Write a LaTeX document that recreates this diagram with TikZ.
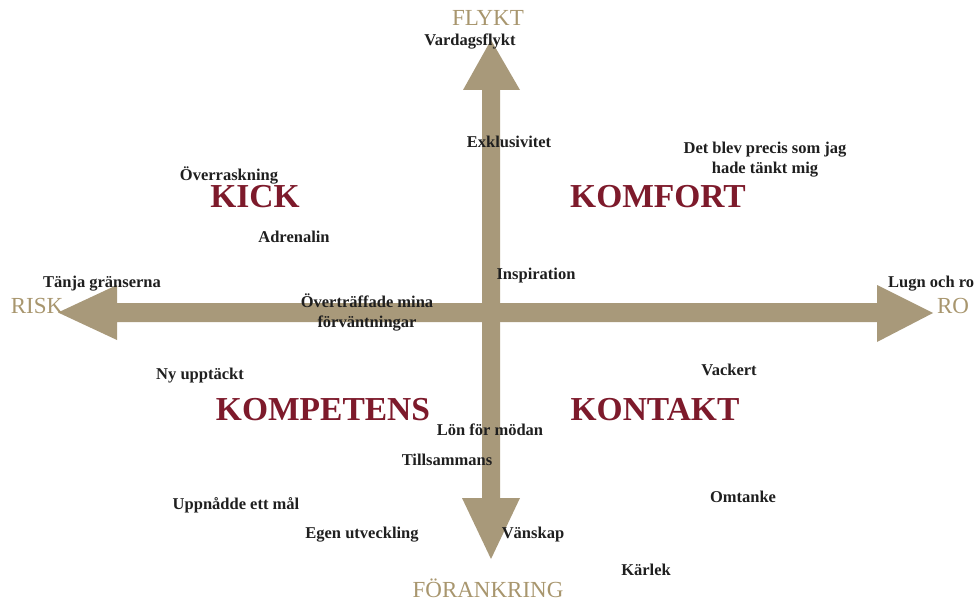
\documentclass[tikz,border=0pt]{standalone}
\usepackage{fontspec}
\setmainfont{Liberation Serif}
\definecolor{arrowtan}{HTML}{A8997A}
\definecolor{axistan}{HTML}{A8966E}
\definecolor{quadred}{HTML}{7D1A2B}
\begin{document}
\begin{tikzpicture}[x=1pt,y=-1pt,
  lbl/.style={font=\fontsize{16.5}{20}\selectfont\bfseries, text=black!88, inner sep=0pt, align=center},
  quad/.style={font=\fontsize{33.5}{38}\selectfont\bfseries, text=quadred, inner sep=0pt},
  axis/.style={font=\fontsize{23}{26}\selectfont, text=axistan, inner sep=0pt},
  arr/.style={fill=arrowtan, draw=none}]
\useasboundingbox (0,0) rectangle (978,602);
\clip (0,0) rectangle (978,602);
% arrows
\fill[arr] (482,90) -- (463,90) -- (491,40) -- (520,90) -- (500,90) -- (500,498) -- (520,498) -- (491,559) -- (462,498) -- (482,498) -- cycle;
\fill[arr] (117,303) -- (117,285) -- (58,312.5) -- (117,340) -- (117,322) -- (877,322) -- (877,342) -- (933,313) -- (877,285) -- (877,303) -- cycle;
% axis labels
\node[axis] (flykt) at (488,18) {FLYKT};
\node[axis] (risk) at (37,306) {RISK};
\node[axis] (ro) at (953,306) {RO};
\node[axis] (forankring) at (488,588) {FÖRANKRING};
% quadrant labels
\node[quad] (kick) at (255,197) {KICK};
\node[quad] (komfort) at (658,197) {KOMFORT};
\node[quad] (kompetens) at (323,410) {KOMPETENS};
\node[quad] (kontakt) at (655,410) {KONTAKT};
% words
\node[lbl] (vardag) at (470,42) {Vardagsflykt};
\node[lbl] (exkl) at (509,142) {Exklusivitet};
\node[lbl] (detblev) at (765,160) {Det blev precis som jag\\hade tänkt mig};
\node[lbl] (overr) at (229,175) {Överraskning};
\node[lbl] (adren) at (294,237) {Adrenalin};
\node[lbl] (insp) at (536,276) {Inspiration};
\node[lbl] (tanja) at (102,284) {Tänja gränserna};
\node[lbl, anchor=west] (lugn) at (888,284) {Lugn och ro};
\node[lbl] (overtr) at (367,312) {Överträffade mina\\förväntningar};
\node[lbl] (nyupp) at (200,376) {Ny upptäckt};
\node[lbl] (vackert) at (729,370) {Vackert};
\node[lbl] (lon) at (490,430) {Lön för mödan};
\node[lbl] (tills) at (447,460) {Tillsammans};
\node[lbl] (omtanke) at (743,497) {Omtanke};
\node[lbl] (uppn) at (236,505) {Uppnådde ett mål};
\node[lbl] (egen) at (362,535) {Egen utveckling};
\node[lbl] (vansk) at (533,535) {Vänskap};
\node[lbl] (karlek) at (646,570) {Kärlek};
\end{tikzpicture}
\end{document}
